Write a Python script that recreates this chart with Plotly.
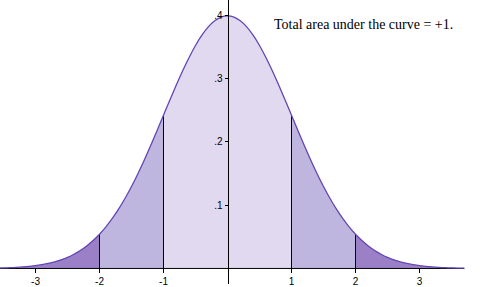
import plotly.graph_objects as go

# x positions (standard deviations) and normal density values
x_vals = [round(-3.6 + 0.1 * i, 1) for i in range(74)]
right_half = [0.3989, 0.3970, 0.3910, 0.3814, 0.3683, 0.3521, 0.3332, 0.3123, 0.2897, 0.2661,
              0.2420, 0.2179, 0.1942, 0.1714, 0.1497, 0.1295, 0.1109, 0.0940, 0.0790, 0.0656,
              0.0540, 0.0440, 0.0355, 0.0283, 0.0224, 0.0175, 0.0136, 0.0104, 0.0079, 0.0060,
              0.0044, 0.0033, 0.0024, 0.0017, 0.0012, 0.0009, 0.0006, 0.0004]
density = list(reversed(right_half[1:37])) + right_half  # -3.6 .. 3.7

x_ticks = [-3, -2, -1, 1, 2, 3]
x_ticktext = ["-3", "-2", "-1", "1", "2", "3"]
y_ticks = [0.1, 0.2, 0.3, 0.4]
y_ticktext = [".1", ".2", ".3", ".4"]
boundaries = [-2, -1, 1, 2]
title_text = "Total area under the curve = +1."

LIGHT = "#E0D9F0"
MID = "#BFB6DF"
DARK = "#9B80C7"
LINE = "#6445B4"

def idx(v):
    return x_vals.index(v)

segments = [
    (x_vals[0], -2, DARK),
    (-2, -1, MID),
    (-1, 1, LIGHT),
    (1, 2, MID),
    (2, x_vals[-1], DARK),
]

fig = go.Figure()
for a, b, col in segments:
    i, j = idx(a), idx(b)
    fig.add_trace(go.Scatter(x=x_vals[i:j + 1], y=density[i:j + 1], mode="lines",
                             line=dict(width=0, color=col, shape="spline"),
                             fill="tozeroy", fillcolor=col, hoverinfo="skip",
                             showlegend=False))

# vertical boundary lines
for b in boundaries:
    fig.add_trace(go.Scatter(x=[b, b], y=[0, density[idx(b)]], mode="lines",
                             line=dict(width=1, color="black"), showlegend=False,
                             hoverinfo="skip"))

# baseline
fig.add_trace(go.Scatter(x=[x_vals[0], x_vals[-1]], y=[0, 0], mode="lines",
                         line=dict(width=1, color="black"), showlegend=False,
                         hoverinfo="skip"))

# curve outline
fig.add_trace(go.Scatter(x=x_vals, y=density, mode="lines",
                         line=dict(width=1.3, color=LINE, shape="spline"),
                         showlegend=False))

W, H = 480, 287
px_per_x = 64.0
x0_px = 227.5
xr = [-x0_px / px_per_x, (W - x0_px) / px_per_x]
px_per_y = 640.0
y0_px = 271.3
yr = [-(H - y0_px) / px_per_y, y0_px / px_per_y]

fig.update_layout(
    width=W, height=H,
    margin=dict(l=0, r=0, t=0, b=0),
    plot_bgcolor="white", paper_bgcolor="white",
    xaxis=dict(range=xr, tickvals=x_ticks, ticktext=x_ticktext, ticks="outside",
               ticklen=4, tickcolor="black", tickwidth=1, showgrid=False,
               zeroline=False, showline=False, anchor="free",
               position=(H - y0_px) / H,
               tickfont=dict(family="Liberation Sans, Arial", size=10, color="black")),
    yaxis=dict(range=yr, tickvals=y_ticks, ticktext=y_ticktext, ticks="outside",
               ticklen=3, tickcolor="black", tickwidth=1, showgrid=False,
               zeroline=False, showline=True, linecolor="black", linewidth=1,
               anchor="free", position=x0_px / W,
               tickfont=dict(family="Liberation Sans, Arial", size=10, color="black")),
    annotations=[dict(text=title_text, xref="paper", yref="paper",
                      x=363 / W, y=1 - 25 / H, xanchor="center", yanchor="middle",
                      showarrow=False,
                      font=dict(family="Liberation Serif, Times New Roman", size=14,
                                color="black"))],
)

fig.write_html("out.html")
